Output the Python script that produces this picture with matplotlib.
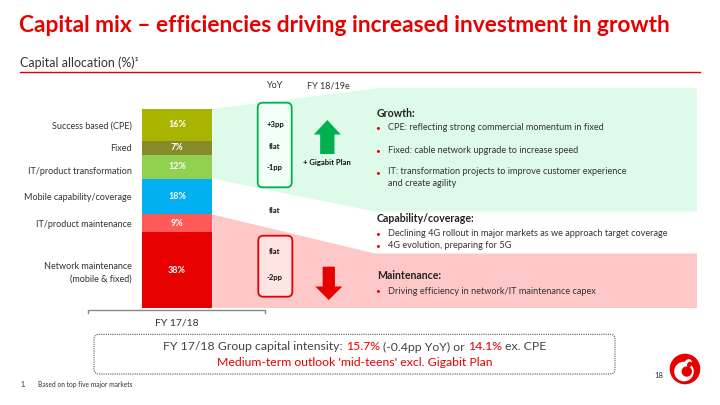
import matplotlib
matplotlib.use("Agg")
import matplotlib.pyplot as plt
import numpy as np
from matplotlib.patches import Polygon, FancyBboxPatch, FancyArrow, Circle, Ellipse

plt.rcParams['font.family'] = ['Lato', 'DejaVu Sans']

# data (bottom to top of the stacked bar)
categories = ['Network maintenance\n(mobile & fixed)', 'IT/product maintenance',
              'Mobile capability/coverage', 'IT/product transformation',
              'Fixed', 'Success based (CPE)']
shares = [38, 9, 18, 12, 7, 16]
seg_colors = ['#E60000', '#FF5A5A', '#00B0F0', '#92D050', '#878A2A', '#A8B400']
yoy = ['-2pp', 'flat', 'flat', '-1pp', 'flat', '+3pp']
bar_label = 'FY 17/18'

growth_items = ['CPE: reflecting strong commercial momentum in fixed',
                'Fixed: cable network upgrade to increase speed',
                'IT: transformation projects to improve customer experience\nand create agility']
capability_items = ['Declining 4G rollout in major markets as we approach target coverage',
                    '4G evolution, preparing for 5G']
maintenance_items = ['Driving efficiency in network/IT maintenance capex']

RED = '#E60000'
GREEN = '#00B050'
TXT = '#333333'

fig = plt.figure(figsize=(7.2, 4.05), dpi=100)
ax = fig.add_axes([0, 0, 1, 1])
ax.set_xlim(0, 720)
ax.set_ylim(405, 0)
ax.axis('off')

# header
ax.text(19, 26, 'Capital mix – efficiencies driving increased investment in growth',
        color=RED, fontsize=16.35, fontweight='bold', va='center', ha='left')
ax.text(20, 62.5, 'Capital allocation (%)¹', color=TXT, fontsize=9, va='center')
ax.plot([20, 700], [71.5, 71.5], color=RED, lw=1)

# bar geometry in pixels
bar_l, bar_r = 141.7, 212.3
bar_top, bar_bot = 109, 308
px = (bar_bot - bar_top) / sum(shares)
cum = np.cumsum(shares)
growth_bot = bar_bot - cum[2] * px
maint_top = bar_bot - cum[1] * px

# shaded zones behind
ax.add_patch(Polygon([(bar_r, bar_top), (380, 88), (697, 88), (697, 211.5),
                      (375, 211.5), (bar_r, growth_bot)],
                     closed=True, fc='#DDFBE8', ec='none', zorder=0))
ax.add_patch(Polygon([(bar_r, maint_top), (375, 253.5), (697, 253.5), (697, bar_bot),
                      (bar_r, bar_bot)],
                     closed=True, fc='#FFC8C8', ec='none', zorder=0))

# stacked bar
bax = fig.add_axes([bar_l / 720, (405 - bar_bot) / 405,
                    (bar_r - bar_l) / 720, (bar_bot - bar_top) / 405])
bottoms = np.concatenate([[0], cum[:-1]])
bax.bar(0, shares, bottom=bottoms, width=1, color=seg_colors, edgecolor='none')
for b, v in zip(bottoms, shares):
    bax.text(0, b + v / 2, f'{v}%', color='white', fontsize=6.5, fontweight='bold',
             ha='center', va='center')
bax.set_xlim(-0.5, 0.5)
bax.set_ylim(0, 100)
tick_pos = bottoms + np.array(shares) / 2
tick_pos[3] -= 2  # label sits a little lower in the original
bax.set_yticks(tick_pos)
bax.set_yticklabels(categories, fontsize=6.5, color=TXT, linespacing=1.5)
bax.tick_params(axis='y', length=0, pad=7)
bax.set_xticks([])
for s in bax.spines.values():
    s.set_visible(False)
bax.patch.set_visible(False)

# bracket + category label
ax.plot([88.3, 88.3, 265, 265], [312.5, 310, 310, 312.5], color='#888888', lw=1)
ax.text(176.5, 323.5, bar_label, fontsize=7.5, color=TXT, ha='center', va='center')

# column headers
ax.text(275, 86, 'YoY', fontsize=6.5, color=TXT, ha='center', va='center')
ax.text(328, 86, 'FY 18/19e', fontsize=6.5, color=TXT, ha='center', va='center')

# YoY boxes
ax.add_patch(FancyBboxPatch((257.7, 102.7), 34, 84.6, boxstyle='round,pad=0,rounding_size=5',
                            fc='#F2FFF6', ec=GREEN, lw=1.3, zorder=2))
ax.add_patch(FancyBboxPatch((258.3, 235.7), 34, 61, boxstyle='round,pad=0,rounding_size=5',
                            fc='#FFE4E4', ec=RED, lw=1.3, zorder=2))
yoy_y = [277.3, 252, 210.7, 167.7, 146.7, 124.3]
for t, y in zip(yoy, yoy_y):
    ax.text(275, y, t, fontsize=5.5, fontweight='bold', color='#111111',
            ha='center', va='center', zorder=3)

# arrows
ax.add_patch(FancyArrow(327.3, 154, 0, -34, width=14.3, head_width=27, head_length=14.5,
                        length_includes_head=True, color=GREEN, lw=0, zorder=3))
ax.add_patch(FancyArrow(328.8, 266.7, 0, 33.3, width=12.3, head_width=27, head_length=13.5,
                        length_includes_head=True, color=RED, lw=0, zorder=3))
ax.text(327, 162.7, '+ Gigabit Plan', fontsize=5.5, fontweight='bold', color='#111111',
        ha='center', va='center')

# commentary
def section(title, items, ys, y_title):
    ax.text(376.7, y_title, title, fontsize=7.6, fontweight='bold', color='#222222', va='center')
    for it, y in zip(items, ys):
        ax.text(378, y, '•', fontsize=6, color=RED, va='center', ha='center')
        ax.text(388.3, y, it, fontsize=6.6, color=TXT, va='center')

section('Growth:', growth_items[:2], [127.7, 150.7], 113.3)
ax.text(378, 172.7, '•', fontsize=6, color=RED, va='center', ha='center')
ax.text(388.3, 167.3, growth_items[2], fontsize=6.6, color=TXT, va='top', linespacing=1.45)
section('Capability/coverage:', capability_items, [234, 245.7], 219)
section('Maintenance:', maintenance_items, [291], 275.7)

# summary box
ax.add_patch(FancyBboxPatch((94, 334.3), 521, 39.7, boxstyle='round,pad=0,rounding_size=5',
                            fc='none', ec='#555555', lw=0.8, ls=(0, (1, 1))))
pieces = [('FY 17/18 Group capital intensity:', '#444444'), ('15.7%', RED),
          ('(-0.4pp YoY) or', '#444444'), ('14.1%', RED), ('ex. CPE', '#444444')]
r = fig.canvas.get_renderer()
kw = dict(fontsize=8.8)


def width_of(s):
    t = ax.text(0, 0, s, **kw)
    w = t.get_window_extent(r).width
    t.remove()
    return w


words = [p for p, _ in pieces]
x0 = 354.5 - width_of(' '.join(words)) / 2
for k, (p, c) in enumerate(pieces):
    right = x0 + width_of(' '.join(words[:k + 1]))
    ax.text(right, 347, p, color=c, va='center', ha='right', **kw)
ax.text(354.5, 362, "Medium-term outlook 'mid-teens' excl. Gigabit Plan", color=RED,
        ha='center', va='center', **kw)

# footnote and page
ax.text(20, 384.5, '1.', fontsize=4.8, color=TXT, va='center')
ax.text(38, 384.5, 'Based on top five major markets', fontsize=4.8, color=TXT, va='center')
ax.text(659, 375.3, '18', fontsize=5.5, color=TXT, va='center', ha='center')

# logo
ax.add_patch(Circle((685, 369), 15.3, color=RED, lw=0))
ax.add_patch(Circle((684, 371.5), 9.8, color='white', lw=0))
ax.add_patch(Ellipse((688, 362.5), 8, 6, angle=-30, color='white', lw=0))
ax.add_patch(Circle((686.8, 371.5), 5.2, color=RED, lw=0))
ax.add_patch(Ellipse((689.5, 364.5), 4.5, 6, angle=30, color=RED, lw=0))

fig.savefig('out.png', dpi=100, facecolor='white')
